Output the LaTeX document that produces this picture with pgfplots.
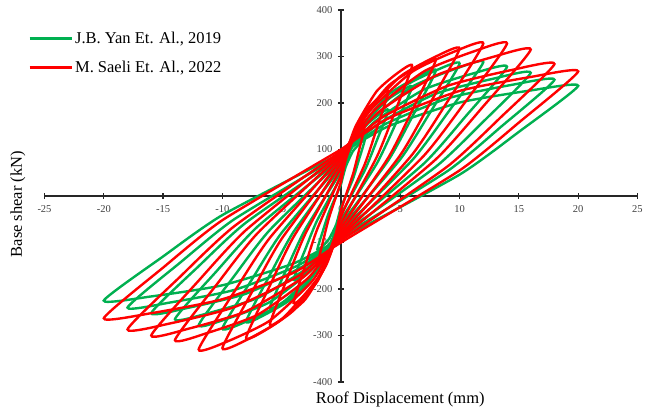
\documentclass[border=0pt]{standalone}
\usepackage{fontspec}
\setmainfont{Liberation Serif}
\usepackage{pgfplots}
\pgfplotsset{compat=1.18}
\definecolor{cgreen}{RGB}{0,176,80}
\definecolor{cred}{RGB}{255,0,0}
\begin{document}
\begin{tikzpicture}
\useasboundingbox (0pt,0pt) rectangle (654pt,412pt);
\begin{axis}[
  at={(44.5pt,30pt)}, anchor=south west,
  scale only axis, width=593pt, height=372pt,
  xmin=-25, xmax=25, ymin=-400, ymax=400,
  axis lines=middle,
  axis line style={-, line width=1.3pt, black!85},
  xtick={-25,-20,-15,-10,-5,0,5,10,15,20,25},
  ytick={-400,-300,-200,-100,100,200,300,400},
  hide obscured x ticks=false,
  hide obscured y ticks=false,
  tick align=center, major tick length=6pt,
  tick style={line width=1.2pt, black!85},
  /pgf/number format/assume math mode=true,
  x tick label style={font=\fontsize{10.5}{12}\selectfont, yshift=-3pt, text=black!75},
  y tick label style={font=\fontsize{10.5}{12}\selectfont, xshift=-2pt, text=black!75},
  every axis x label/.style={at={(axis description cs:0.6,-0.048)}, anchor=center, font=\fontsize{16.5}{18}\selectfont},
  every axis y label/.style={at={(axis description cs:-0.045,0.478)}, rotate=90, anchor=center, font=\fontsize{16.5}{18}\selectfont},
  xlabel={Roof Displacement (mm)},
  ylabel={Base shear (kN)},
  legend style={draw=none, fill=none, at={(axis description cs:-0.028,0.946)}, anchor=north west, font=\fontsize{16.5}{18}\selectfont, row sep=12pt, inner sep=0pt},
  legend cell align=left,
  legend image code/.code={\draw[#1, line width=3pt] (0pt,0pt) -- (42pt,0pt);},
  every axis plot/.append style={line width=2.4pt, smooth, tension=0.35},
  clip=false,
]
% ---------------- Green: J.B. Yan et al., 2019 ----------------
\addplot[cgreen] coordinates {(0,92) (4,150) (10,201) (16,227) (20,237) (15,138) (10,46) (0,-92) (-4,-145) (-10,-192) (-16,-216) (-20,-225) (-15,-130) (-10,-41) (0,92)};
\addlegendentry{J.B. Yan Et. Al., 2019}
\addplot[cgreen, forget plot] coordinates {(0,88) (3.6,153) (9,210) (14.4,239) (18,250) (13.5,149) (9,54) (0,-88) (-3.6,-149) (-9,-202) (-14.4,-229) (-18,-240) (-13.5,-142) (-9,-50) (0,88)};
\addplot[cgreen, forget plot] coordinates {(0,84) (3.2,156) (8,220) (12.8,252) (16,265) (12,160) (8,63) (0,-84) (-3.2,-151) (-8,-210) (-12.8,-240) (-16,-252) (-12,-151) (-8,-57) (0,84)};
\addplot[cgreen, forget plot] coordinates {(0,80) (2.8,159) (7,229) (11.2,264) (14,278) (10.5,171) (7,70) (0,-80) (-2.8,-154) (-7,-219) (-11.2,-252) (-14,-265) (-10.5,-162) (-7,-65) (0,80)};
\addplot[cgreen, forget plot] coordinates {(0,76) (2.4,161) (6,235) (9.6,273) (12,288) (9,179) (6,77) (0,-76) (-2.4,-157) (-6,-228) (-9.6,-264) (-12,-278) (-9,-172) (-6,-73) (0,76)};
\addplot[cgreen, forget plot] coordinates {(0,70) (2,156) (5,231) (8,270) (10,285) (7.5,179) (5,79) (0,-70) (-2,-156) (-5,-231) (-8,-270) (-10,-285) (-7.5,-179) (-5,-79) (0,70)};
\addplot[cgreen, forget plot] coordinates {(0,62) (1.6,145) (4,218) (6.4,255) (8,270) (6,170) (4,77) (0,-62) (-1.6,-145) (-4,-218) (-6.4,-255) (-8,-270) (-6,-170) (-4,-77) (0,62)};
\addplot[cgreen, forget plot] coordinates {(0,52) (1.2,125) (3,189) (4.8,222) (6,235) (4.5,149) (3,69) (0,-52) (-1.2,-127) (-3,-193) (-4.8,-227) (-6,-240) (-4.5,-152) (-3,-71) (0,52)};
\addplot[cgreen, forget plot] coordinates {(0,40) (0.8,98) (2,149) (3.2,175) (4,185) (3,118) (2,55) (0,-40) (-0.8,-96) (-2,-145) (-3.2,-170) (-4,-180) (-3,-114) (-2,-52) (0,40)};
\addplot[cgreen, forget plot] coordinates {(0,25) (0.4,63) (1,96) (1.6,113) (2,120) (1.5,77) (1,36) (0,-25) (-0.4,-61) (-1,-92) (-1.6,-109) (-2,-115) (-1.5,-73) (-1,-34) (0,25)};
% ---------------- Red: M. Saeli et al., 2022 ----------------
\addplot[cred] coordinates {(0,100) (4,167) (10,226) (16,256) (20,268) (15,158) (10,55) (0,-100) (-4,-165) (-10,-222) (-16,-252) (-20,-263) (-15,-154) (-10,-52) (0,100)};
\addlegendentry{M. Saeli Et. Al., 2022}
\addplot[cred, forget plot] coordinates {(0,96) (3.6,171) (9,237) (14.4,271) (18,284) (13.5,170) (9,64) (0,-96) (-3.6,-172) (-9,-239) (-14.4,-274) (-18,-287) (-13.5,-172) (-9,-65) (0,96)};
\addplot[cred, forget plot] coordinates {(0,92) (3.2,181) (8,259) (12.8,299) (16,315) (12,193) (8,79) (0,-92) (-3.2,-175) (-8,-248) (-12.8,-285) (-16,-300) (-12,-182) (-8,-73) (0,92)};
\addplot[cred, forget plot] coordinates {(0,88) (2.8,184) (7,268) (11.2,311) (14,328) (10.5,203) (7,87) (0,-88) (-2.8,-177) (-7,-255) (-11.2,-294) (-14,-310) (-10.5,-191) (-7,-79) (0,88)};
\addplot[cred, forget plot] coordinates {(0,84) (2.4,182) (6,267) (9.6,311) (12,328) (9,204) (6,89) (0,-84) (-2.4,-182) (-6,-268) (-9.6,-313) (-12,-330) (-9,-206) (-6,-90) (0,84)};
\addplot[cred, forget plot] coordinates {(0,78) (2,174) (5,257) (8,300) (10,317) (7.5,199) (5,88) (0,-78) (-2,-178) (-5,-265) (-8,-310) (-10,-327) (-7.5,-206) (-5,-92) (0,78)};
\addplot[cred, forget plot] coordinates {(0,70) (1.6,159) (4,237) (6.4,277) (8,293) (6,184) (4,83) (0,-70) (-1.6,-164) (-4,-246) (-6.4,-289) (-8,-305) (-6,-193) (-4,-88) (0,70)};
\addplot[cred, forget plot] coordinates {(0,60) (1.2,148) (3,225) (4.8,265) (6,280) (4.5,178) (3,83) (0,-60) (-1.2,-146) (-3,-222) (-4.8,-261) (-6,-276) (-4.5,-175) (-3,-81) (0,60)};
\addplot[cred, forget plot] coordinates {(0,45) (0.8,117) (2,180) (3.2,212) (4,225) (3,144) (2,68) (0,-45) (-0.8,-119) (-2,-184) (-3.2,-217) (-4,-230) (-3,-148) (-2,-71) (0,45)};
\addplot[cred, forget plot] coordinates {(0,30) (0.4,78) (1,120) (1.6,142) (2,150) (1.5,96) (1,46) (0,-30) (-0.4,-78) (-1,-120) (-1.6,-142) (-2,-150) (-1.5,-96) (-1,-46) (0,30)};
\end{axis}
\end{tikzpicture}
\end{document}
